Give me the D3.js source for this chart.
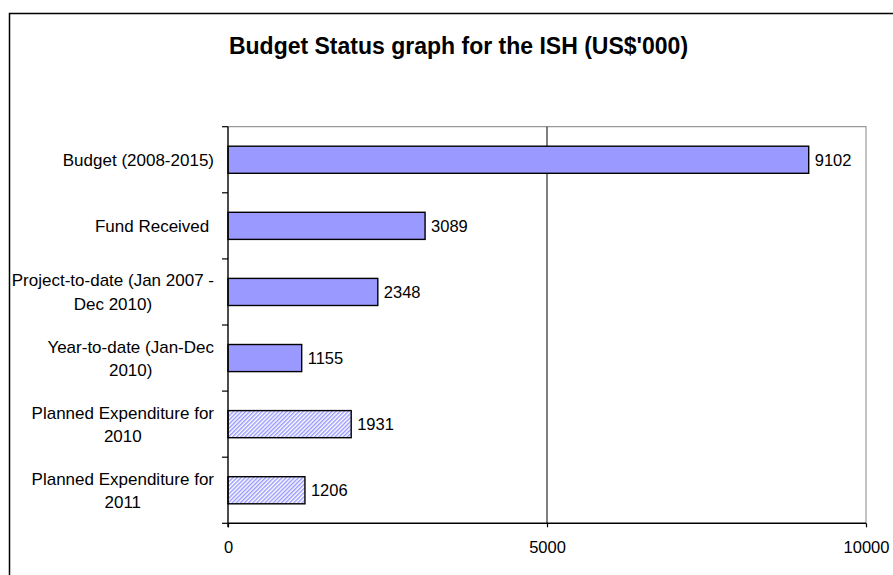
<!DOCTYPE html>
<html>
<head>
<meta charset="utf-8">
<script src="https://cdn.jsdelivr.net/npm/d3@7"></script>
<style>
  body { margin: 0; background: #fff; }
  svg { display: block; font-family: "Liberation Sans", Arial, sans-serif; }
  .tick text { font-size: 16.5px; fill: #000; }
</style>
</head>
<body>
<div id="chart"></div>
<script>
// chart data
const categories = [
  ["Budget (2008-2015)"],
  ["Fund Received "],
  ["Project-to-date (Jan 2007 -", "Dec 2010)"],
  ["Year-to-date (Jan-Dec", "2010)"],
  ["Planned Expenditure for", "2010"],
  ["Planned Expenditure for", "2011"]
];
const values = [9102, 3089, 2348, 1155, 1931, 1206];
const planned = [false, false, false, false, true, true];
const xTicks = [0, 5000, 10000];
const titleText = "Budget Status graph for the ISH (US$'000)";

const dims = { width: 893, height: 575,
               plot: { left: 228, right: 866, top: 126.7, bottom: 523.3 } };

const svg = d3.select("#chart").append("svg")
  .attr("width", dims.width)
  .attr("height", dims.height);

// hatch for the planned bars
const defs = svg.append("defs");
defs.append("pattern")
  .attr("id", "hatch")
  .attr("patternUnits", "userSpaceOnUse")
  .attr("width", 2.9)
  .attr("height", 2.9)
  .attr("patternTransform", "rotate(45)")
  .call(p => p.append("rect").attr("width", 2.9).attr("height", 2.9).attr("fill", "#fff"))
  .call(p => p.append("rect").attr("width", 1.45).attr("height", 2.9).attr("fill", "#9999FF"));

// outer chart frame
svg.append("rect")
  .attr("x", 9.5).attr("y", 13.5)
  .attr("width", dims.width).attr("height", dims.height)
  .attr("fill", "none").attr("stroke", "#000").attr("stroke-width", 1.5);

svg.append("text")
  .attr("x", 458.5).attr("y", 54)
  .attr("text-anchor", "middle")
  .attr("font-weight", "bold")
  .attr("font-size", "23px")
  .text(titleText);

const x = d3.scaleLinear()
  .domain([0, 10000])
  .range([dims.plot.left, dims.plot.right]);

const y = d3.scaleBand()
  .domain(d3.range(values.length))
  .range([dims.plot.top, dims.plot.bottom])
  .paddingInner(0.59)
  .paddingOuter(0.295);

const band = (dims.plot.bottom - dims.plot.top) / values.length;

// plot area border (gray, top and right)
svg.append("path")
  .attr("d", `M${dims.plot.left},${dims.plot.top}H${dims.plot.right}V${dims.plot.bottom}`)
  .attr("fill", "none").attr("stroke", "#999").attr("stroke-width", 1.2);

// gridline at 5000
svg.append("g")
  .selectAll("line")
  .data(xTicks.slice(1, -1))
  .join("line")
  .attr("x1", d => x(d)).attr("x2", d => x(d))
  .attr("y1", dims.plot.top).attr("y2", dims.plot.bottom)
  .attr("stroke", "#000").attr("stroke-width", 1);

// bars
svg.append("g")
  .selectAll("rect")
  .data(values)
  .join("rect")
  .attr("x", x(0))
  .attr("y", (d, i) => y(i))
  .attr("width", d => x(d) - x(0))
  .attr("height", y.bandwidth())
  .attr("fill", (d, i) => planned[i] ? "url(#hatch)" : "#9999FF")
  .attr("stroke", "#000")
  .attr("stroke-width", 1.4);

// value labels
svg.append("g")
  .selectAll("text")
  .data(values)
  .join("text")
  .attr("x", d => x(d) + 6)
  .attr("y", (d, i) => y(i) + y.bandwidth() / 2)
  .attr("dy", "0.36em")
  .attr("font-size", "16.5px")
  .text(d => d);

// x axis
svg.append("g")
  .attr("transform", `translate(0,${dims.plot.bottom})`)
  .call(d3.axisBottom(x).tickValues(xTicks).tickSize(4).tickPadding(14).tickFormat(d3.format("d")))
  .call(g => g.select(".domain").attr("d", `M${dims.plot.left},0H${dims.plot.right}`).attr("stroke-width", 1.4))
  .call(g => g.selectAll(".tick line").attr("stroke-width", 1.2));

// y axis: ticks on band boundaries
const yAxis = svg.append("g");
yAxis.append("line")
  .attr("x1", dims.plot.left).attr("x2", dims.plot.left)
  .attr("y1", dims.plot.top).attr("y2", dims.plot.bottom + 4)
  .attr("stroke", "#000").attr("stroke-width", 1.4);
yAxis.selectAll(".ytick")
  .data(d3.range(values.length + 1))
  .join("line")
  .attr("class", "ytick")
  .attr("x1", dims.plot.left - 6).attr("x2", dims.plot.left)
  .attr("y1", i => dims.plot.top + i * band).attr("y2", i => dims.plot.top + i * band)
  .attr("stroke", "#000").attr("stroke-width", 1.2);

// category labels: block right-aligned, lines centred inside block
const lineH = 23.3;
const labelRight = 214;
const labels = svg.append("g").attr("font-size", "17px");
categories.forEach((lines, i) => {
  const g = labels.append("g");
  const cy = y(i) + y.bandwidth() / 2;
  const t = g.append("text")
    .attr("text-anchor", "middle")
    .style("white-space", "pre");
  lines.forEach((ln, k) => {
    t.append("tspan")
      .attr("x", 0)
      .attr("y", cy + (k - (lines.length - 1) / 2) * lineH)
      .attr("dy", "0.36em")
      .text(ln);
  });
  const w = d3.max(t.selectAll("tspan").nodes(), n => n.getComputedTextLength());
  t.attr("transform", `translate(${labelRight - w / 2},0)`);
});
</script>
</body>
</html>
